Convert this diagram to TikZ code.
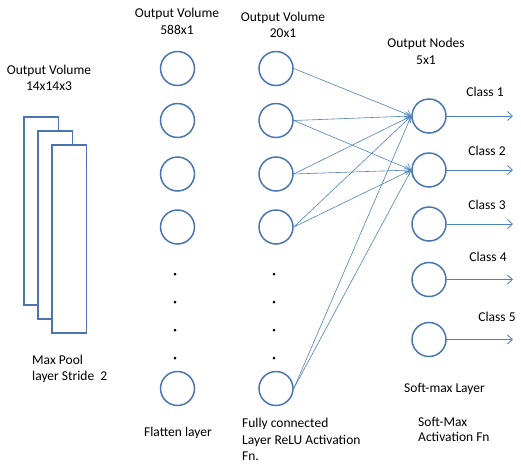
\documentclass[tikz,border=0pt]{standalone}
\usepackage{fontspec}
\setmainfont{Carlito}
\usetikzlibrary{arrows.meta,positioning}

\definecolor{nodeblue}{RGB}{74,117,178}
\definecolor{linkblue}{RGB}{79,129,189}

\begin{document}
\begin{tikzpicture}[x=1pt,y=-1pt,>={Straight Barb[length=5pt,width=9pt]},
  neuron/.style={circle,draw=nodeblue,line width=1.5pt,minimum size=34pt,inner sep=0pt},
  fmap/.style={rectangle,draw=nodeblue,fill=white,line width=1.5pt,minimum width=34.5pt,minimum height=188pt,inner sep=0pt},
  lbl/.style={font=\fontsize{13.5}{16.5}\selectfont,inner sep=0pt},
  link/.style={linkblue,line width=0.6pt,->}]
  \useasboundingbox (0,0) rectangle (521,464);
  % pooled feature maps
  \foreach \i/\x/\y in {1/41/211,2/55/225,3/69/239}{\node[fmap] (pool\i) at (\x,\y) {};}
  % flatten and dense layers
  \foreach \i/\y in {1/68.5,2/120.5,3/174,4/227,5/388.5}{
    \node[neuron] (f\i) at (177.5,\y) {};
    \node[neuron] (d\i) at (276,\y) {};}
  \foreach \y in {274,302,330,358}{\fill (175,\y) circle (1.5); \fill (274,\y) circle (1.5);}
  % output layer
  \foreach \i/\y in {1/116,2/170,3/224,4/279.5,5/339.5}{
    \node[neuron] (o\i) at (429,\y) {};
    \coordinate (e\i) at (513,\y);
    \draw[link,line width=0.8pt] (o\i) -- (e\i);}
  \draw[link] (d1.east) -- (o1.west);
  \foreach \s in {2,...,5}{
    \draw[link] (d\s.east) -- (o1.west);
    \draw[link] (d\s.east) -- (o2.west);}
  % labels
  \node[lbl,align=center] (poolhead) at (49,78) {Output Volume\\14x14x3};
  \node[lbl,align=left,anchor=west] (poolfoot) at (32,369) {Max Pool\\layer Stride~~2};
  \node[lbl,align=center] (flathead) at (177,21.5) {Output Volume\\588x1};
  \node[lbl] (flatfoot) at (178,433) {Flatten layer};
  \node[lbl,align=center] (densehead) at (283,25) {Output Volume\\20x1};
  \node[lbl,align=left,anchor=west] (densefoot) at (242,439.5) {Fully connected\\Layer ReLU Activation\\Fn.};
  \node[lbl,align=center] (outhead) at (426,51.5) {Output Nodes\\5x1};
  \node[lbl,anchor=west] (outfoot) at (404,389) {Soft-max Layer};
  \node[lbl,align=left,anchor=west,font=\fontsize{13.5}{15.5}\selectfont] (actfoot) at (418,429.5) {Soft-Max\\Activation Fn};
  \foreach \i/\x/\y in {1/485/92,2/487/151,3/487/205,4/488/257,5/497/317}{\node[lbl] (class\i) at (\x,\y) {Class~\i};}
\end{tikzpicture}
\end{document}
